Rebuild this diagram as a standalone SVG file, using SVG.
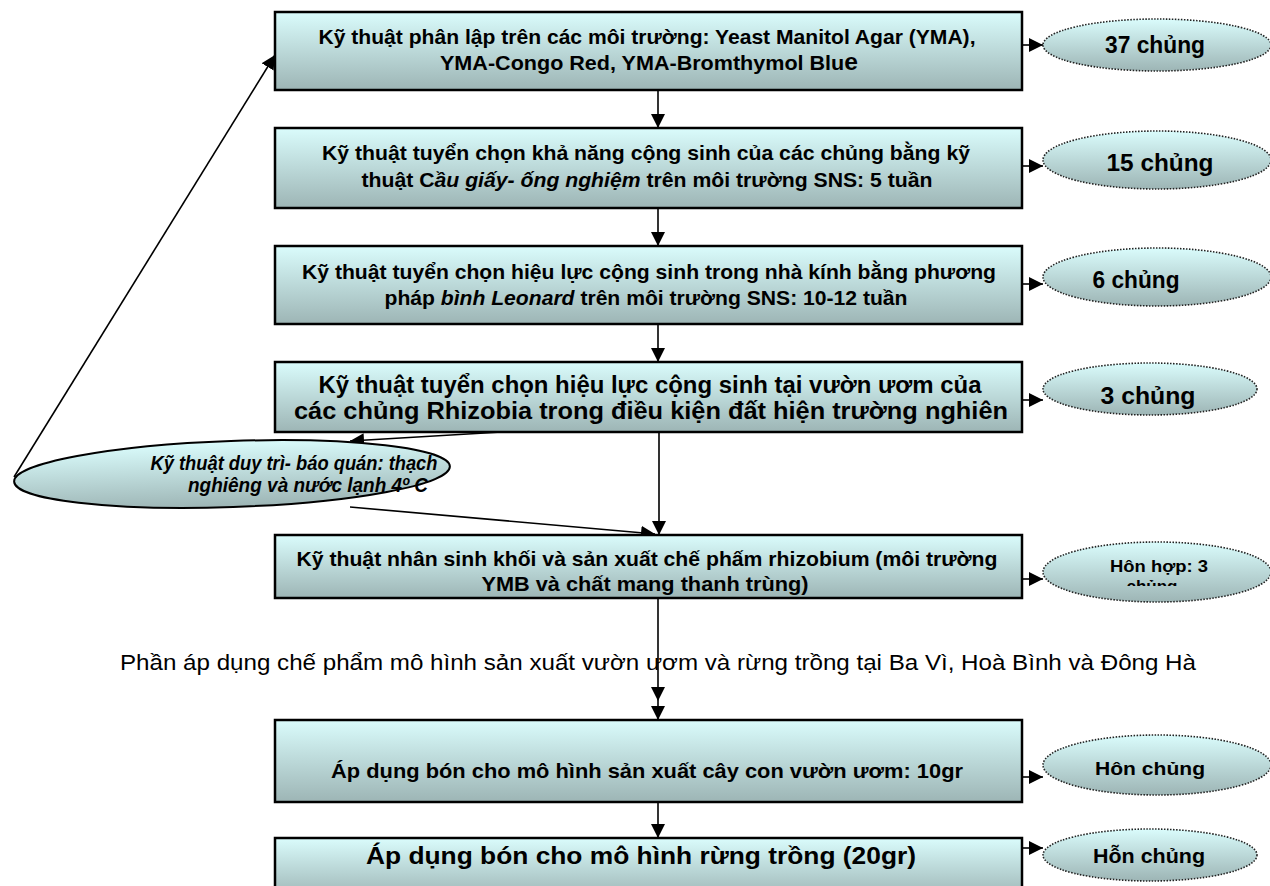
<svg xmlns="http://www.w3.org/2000/svg" width="1270" height="886" viewBox="0 0 1270 886">
<defs>
<linearGradient id="g" x1="0" y1="0" x2="0" y2="1">
<stop offset="0" stop-color="#dafcfc"/>
<stop offset="1" stop-color="#9db5b5"/>
</linearGradient>
<marker id="ah" markerUnits="userSpaceOnUse" markerWidth="14" markerHeight="14" refX="14" refY="7" orient="auto" viewBox="0 0 14 14">
<path d="M0,0 L14,7 L0,14 z" fill="#000"/>
</marker>
<clipPath id="clip5"><rect x="1040" y="540" width="230" height="46"/></clipPath>
<style>
.box{fill:url(#g);stroke:#000;stroke-width:2.5}
.oval{fill:url(#g);stroke:#222;stroke-width:1.6;stroke-dasharray:1.5 1.5}
.oval2{fill:url(#g);stroke:#000;stroke-width:2}
.t{font-family:"Liberation Sans",Arial,sans-serif;font-weight:bold;fill:#000;text-anchor:middle}
.i{font-style:italic}
.p{font-family:"Liberation Sans",Arial,sans-serif;font-size:22px;fill:#000;text-anchor:middle}
.c{fill:none;stroke:#000;stroke-width:1.6}
</style>
</defs>
<rect width="1270" height="886" fill="#fff"/>

<g id="connectors">
<path class="c" d="M658,90 V128" marker-end="url(#ah)"/>
<path class="c" d="M658,208 V246" marker-end="url(#ah)"/>
<path class="c" d="M658,324 V362" marker-end="url(#ah)"/>
<path class="c" d="M640,423 H659 V535" marker-end="url(#ah)"/>
<path class="c" d="M652,423 L350,441" marker-end="url(#ah)"/>
<path class="c" d="M350,507 L655,534" marker-end="url(#ah)"/>
<path class="c" d="M14,477 L275,55" marker-end="url(#ah)"/>
<path class="c" d="M658,598 V701 V720" marker-mid="url(#ah)" marker-end="url(#ah)"/>
<path class="c" d="M658,802 V838" marker-end="url(#ah)"/>
<path class="c" d="M1022,45 H1043" marker-end="url(#ah)"/>
<path class="c" d="M1022,166 H1043" marker-end="url(#ah)"/>
<path class="c" d="M1022,284 H1043" marker-end="url(#ah)"/>
<path class="c" d="M1022,400 H1043" marker-end="url(#ah)"/>
<path class="c" d="M1022,579 H1043" marker-end="url(#ah)"/>
<path class="c" d="M1022,777 H1043" marker-end="url(#ah)"/>
<path class="c" d="M1022,848 H1043" marker-end="url(#ah)"/>
</g>

<g id="n1">
<rect class="box" x="275" y="12" width="747" height="78"/>
<text class="t" font-size="21" x="647" y="44" textLength="657" lengthAdjust="spacingAndGlyphs">Kỹ thuật phân lập trên các môi trường: Yeast Manitol Agar (YMA),</text>
<text class="t" font-size="21" x="649" y="70" textLength="418" lengthAdjust="spacingAndGlyphs">YMA-Congo Red, YMA-Bromthymol Blu<tspan font-size="24">e</tspan></text>
</g>
<g id="n2">
<rect class="box" x="275" y="128" width="747" height="80"/>
<text class="t" font-size="21" x="646" y="160" textLength="648" lengthAdjust="spacingAndGlyphs">Kỹ thuật tuyển chọn khả năng cộng sinh của các chủng bằng kỹ</text>
<text class="t" font-size="21" x="647" y="187" textLength="571" lengthAdjust="spacingAndGlyphs">thuật C<tspan class="i">ầu giấy- ống nghiệm</tspan> trên môi trường SNS: 5 tuần</text>
</g>
<g id="n3">
<rect class="box" x="275" y="246" width="747" height="78"/>
<text class="t" font-size="21" x="649" y="279" textLength="694" lengthAdjust="spacingAndGlyphs">Kỹ thuật tuyển chọn hiệu lực cộng sinh trong nhà kính bằng phương</text>
<text class="t" font-size="21" x="646" y="305" textLength="523" lengthAdjust="spacingAndGlyphs">pháp <tspan class="i">bình Leonard</tspan> trên môi trường SNS: 10-12 tuần</text>
</g>
<g id="n4">
<rect class="box" x="275" y="362" width="747" height="70"/>
<text class="t" font-size="23" x="650" y="393" textLength="663" lengthAdjust="spacingAndGlyphs">Kỹ thuật tuyển chọn hiệu lực cộng sinh tại vườn  ươm của</text>
<text class="t" font-size="23" x="651" y="419" textLength="714" lengthAdjust="spacingAndGlyphs">các chủng Rhizobia trong điều kiện đất hiện trường nghiên</text>
</g>
<g id="n4b">
<ellipse class="oval2" cx="232" cy="474" rx="218" ry="33" transform="rotate(-2 232 474)"/>
<text class="t i" font-size="20" x="294" y="470" textLength="287" lengthAdjust="spacingAndGlyphs">Kỹ thuật duy trì- báo quán: thạch</text>
<text class="t i" font-size="20" x="308" y="492" textLength="240" lengthAdjust="spacingAndGlyphs">nghiêng và nước lạnh 4º C</text>
</g>
<g id="n5">
<rect class="box" x="275" y="535" width="747" height="63"/>
<text class="t" font-size="21" x="647" y="566" textLength="701" lengthAdjust="spacingAndGlyphs">Kỹ thuật nhân sinh khối và sản xuất chế phấm rhizobium (môi trường</text>
<text class="t" font-size="21" x="645" y="591" textLength="327" lengthAdjust="spacingAndGlyphs">YMB và chất mang thanh trùng)</text>
</g>
<g id="label">
<text class="p" x="658" y="670" textLength="1076" lengthAdjust="spacingAndGlyphs">Phần áp dụng chế phẩm mô hình sản xuất vườn ươm và rừng trồng tại Ba Vì, Hoà Bình và Đông Hà</text>
</g>
<g id="n6">
<rect class="box" x="275" y="720" width="747" height="82"/>
<text class="t" font-size="21" x="647" y="778" textLength="632" lengthAdjust="spacingAndGlyphs">Áp dụng bón cho mô hình sản xuất cây con  vườn ươm: 10gr</text>
</g>
<g id="n7">
<rect class="box" x="275" y="838" width="747" height="60"/>
<text class="t" font-size="23" x="641" y="864" textLength="550" lengthAdjust="spacingAndGlyphs">Áp dụng bón cho mô hình rừng trồng (20gr)</text>
</g>

<g id="e1">
<ellipse class="oval" cx="1157" cy="45" rx="114" ry="26"/>
<text class="t" font-size="23" x="1155" y="53" textLength="100" lengthAdjust="spacingAndGlyphs">37 chủng</text>
</g>
<g id="e2">
<ellipse class="oval" cx="1157" cy="160" rx="114" ry="29"/>
<text class="t" font-size="23" x="1160" y="171" textLength="107" lengthAdjust="spacingAndGlyphs">15 chủng</text>
</g>
<g id="e3">
<ellipse class="oval" cx="1157" cy="277" rx="114" ry="29"/>
<text class="t" font-size="23" x="1136" y="288" textLength="87" lengthAdjust="spacingAndGlyphs">6 chủng</text>
</g>
<g id="e4">
<ellipse class="oval" cx="1150" cy="389" rx="107" ry="26"/>
<text class="t" font-size="23" x="1148" y="404" textLength="95" lengthAdjust="spacingAndGlyphs">3 chủng</text>
</g>
<g id="e5">
<ellipse class="oval" cx="1157" cy="572" rx="114" ry="30"/>
<g clip-path="url(#clip5)">
<text class="t" font-size="17" x="1159" y="572" textLength="98" lengthAdjust="spacingAndGlyphs">Hôn hợp: 3</text>
<text class="t" font-size="17" x="1152" y="592">chủng</text>
</g>
</g>
<g id="e6">
<ellipse class="oval" cx="1157" cy="765" rx="114" ry="30"/>
<text class="t" font-size="19" x="1150" y="775" textLength="110" lengthAdjust="spacingAndGlyphs">Hôn chủng</text>
</g>
<g id="e7">
<ellipse class="oval" cx="1150" cy="855" rx="107" ry="26"/>
<text class="t" font-size="20" x="1149" y="863" textLength="112" lengthAdjust="spacingAndGlyphs">Hỗn chủng</text>
</g>
</svg>
